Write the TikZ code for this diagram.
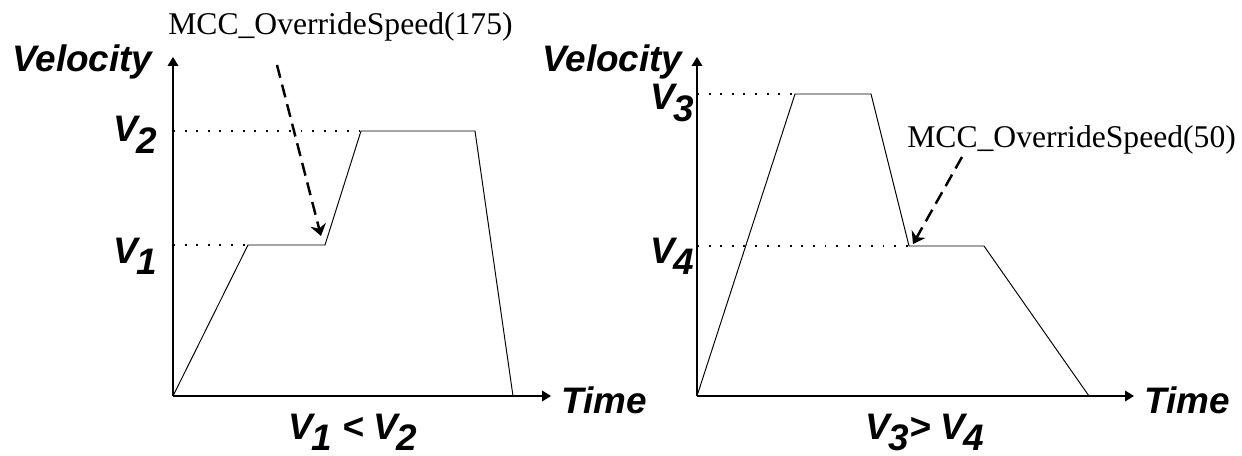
\documentclass[tikz,border=0pt]{standalone}
\usepackage{fontspec}
\setmainfont{Liberation Serif}
\setsansfont{Liberation Sans}
\usepackage{xcolor}
\usepackage{tikz}
\usetikzlibrary{arrows.meta, positioning}
\newcommand{\Vsub}[1]{V\kern-0.05em\raisebox{-0.6ex}{#1}}

\begin{document}
\begin{tikzpicture}[
  x=0.02cm, y=-0.02cm,
  axis/.style={line width=0.7pt, -{Triangle[length=5pt, width=6pt]}},
  profile/.style={line width=0.55pt},
  guide/.style={line width=1.1pt, dash pattern=on 1.1pt off 5.5pt},
  callout/.style={line width=1.4pt, dash pattern=on 7.5pt off 4pt,
                  -{Stealth[length=6.5pt, width=9pt]}},
  lbl/.style={font=\fontsize{21}{25}\selectfont\sffamily\bfseries\itshape, inner sep=0pt},
  cmd/.style={font=\fontsize{18}{22}\selectfont, inner sep=0pt}
]
\useasboundingbox (0,0) rectangle (1242,456);

% left chart
\coordinate (o1) at (173,396);
\coordinate (y1) at (173,57);
\coordinate (x1) at (551,396);
\coordinate (a1) at (248,245);
\coordinate (b1) at (325,245);
\coordinate (c1) at (361,131);
\coordinate (d1) at (475,131);
\coordinate (e1) at (513,396);
\draw[axis] (o1) -- (y1);
\draw[axis] (o1) -- (x1);
\draw[profile] (o1) -- (a1) -- (b1) -- (c1) -- (d1) -- (e1);
\draw[guide] (o1 |- a1) -- (a1);
\draw[guide] (o1 |- c1) -- (c1);
\node[lbl, anchor=base west] (vel1) at (12,72) {Velocity};
\node[lbl, anchor=base east] (v2) at (157,142) {\Vsub{2}};
\node[lbl, anchor=base east] (v1) at (157,263) {\Vsub{1}};
\node[lbl, anchor=base west] (time1) at (561,413) {Time};
\node[lbl, anchor=base] (cmp1) at (353,439) {\Vsub{1} < \Vsub{2}};
\node[cmd, anchor=base west] (cmd1) at (168,35) {MCC\_OverrideSpeed(175)};
\coordinate (p1) at (277,65);
\coordinate (q1) at (321,236);
\draw[callout] (p1) -- (q1);

% right chart
\coordinate (o2) at (697,396);
\coordinate (y2) at (697,57);
\coordinate (x2) at (1134,396);
\coordinate (a2) at (795,94);
\coordinate (b2) at (871,94);
\coordinate (c2) at (909,246);
\coordinate (d2) at (984,246);
\coordinate (e2) at (1089,396);
\draw[axis] (o2) -- (y2);
\draw[axis] (o2) -- (x2);
\draw[profile] (o2) -- (a2) -- (b2) -- (c2) -- (d2) -- (e2);
\draw[guide] (o2 |- a2) -- (a2);
\draw[guide] (o2 |- c2) -- (c2);
\node[lbl, anchor=base west] (vel2) at (542,72) {Velocity};
\node[lbl, anchor=base east] (v3) at (694,110) {\Vsub{3}};
\node[lbl, anchor=base east] (v4) at (694,263) {\Vsub{4}};
\node[lbl, anchor=base west] (time2) at (1144,413) {Time};
\node[lbl, anchor=base] (cmp2) at (925,439) {\Vsub{3}> \Vsub{4}};
\node[cmd, anchor=base west] (cmd2) at (907,148) {MCC\_OverrideSpeed(50)};
\coordinate (p2) at (962,157);
\coordinate (q2) at (913,244);
\draw[callout] (p2) -- (q2);
\end{tikzpicture}
\end{document}
